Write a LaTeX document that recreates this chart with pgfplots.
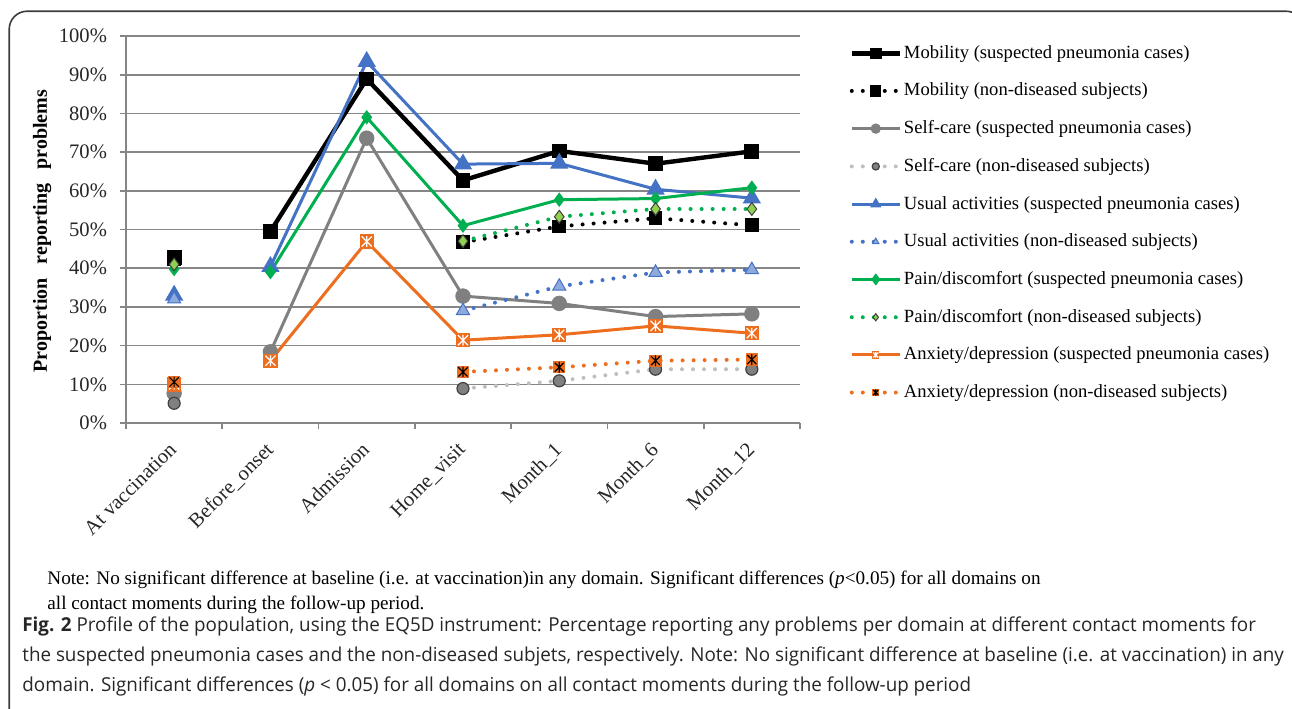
\documentclass[border=0pt]{standalone}
\usepackage{fontspec}
\setmainfont{Liberation Serif}
\newfontfamily\capfont[FakeStretch=0.98]{Open Sans}
\usepackage{pgfplots}
\pgfplotsset{compat=1.18}

\definecolor{axisgray}{RGB}{134,134,134}
\definecolor{cgray}{RGB}{128,128,128}
\definecolor{lgray}{RGB}{191,191,191}
\definecolor{dgray}{RGB}{64,64,64}
\definecolor{cblue}{RGB}{68,114,196}
\definecolor{lblue}{RGB}{142,169,219}
\definecolor{cgreen}{RGB}{0,176,80}
\definecolor{lgreen}{RGB}{146,208,80}
\definecolor{corange}{RGB}{237,110,30}
\definecolor{boxgray}{RGB}{60,60,60}

% square with an asterisk drawn on it
\pgfdeclareplotmark{sqstarw}{%
  \pgfpathrectangle{\pgfqpoint{-\pgfplotmarksize}{-\pgfplotmarksize}}{\pgfqpoint{2\pgfplotmarksize}{2\pgfplotmarksize}}%
  \pgfusepathqfill
  \pgfsetstrokecolor{white}\pgfsetlinewidth{0.6pt}%
  \pgfpathmoveto{\pgfqpoint{0pt}{-0.75\pgfplotmarksize}}\pgfpathlineto{\pgfqpoint{0pt}{0.75\pgfplotmarksize}}%
  \pgfpathmoveto{\pgfqpoint{-0.7\pgfplotmarksize}{-0.7\pgfplotmarksize}}\pgfpathlineto{\pgfqpoint{0.7\pgfplotmarksize}{0.7\pgfplotmarksize}}%
  \pgfpathmoveto{\pgfqpoint{-0.7\pgfplotmarksize}{0.7\pgfplotmarksize}}\pgfpathlineto{\pgfqpoint{0.7\pgfplotmarksize}{-0.7\pgfplotmarksize}}%
  \pgfusepathqstroke}
\pgfdeclareplotmark{sqstark}{%
  \pgfpathrectangle{\pgfqpoint{-\pgfplotmarksize}{-\pgfplotmarksize}}{\pgfqpoint{2\pgfplotmarksize}{2\pgfplotmarksize}}%
  \pgfusepathqfill
  \pgfsetstrokecolor{black}\pgfsetlinewidth{0.6pt}%
  \pgfpathmoveto{\pgfqpoint{0pt}{-0.8\pgfplotmarksize}}\pgfpathlineto{\pgfqpoint{0pt}{0.8\pgfplotmarksize}}%
  \pgfpathmoveto{\pgfqpoint{-0.7\pgfplotmarksize}{-0.7\pgfplotmarksize}}\pgfpathlineto{\pgfqpoint{0.7\pgfplotmarksize}{0.7\pgfplotmarksize}}%
  \pgfpathmoveto{\pgfqpoint{-0.7\pgfplotmarksize}{0.7\pgfplotmarksize}}\pgfpathlineto{\pgfqpoint{0.7\pgfplotmarksize}{-0.7\pgfplotmarksize}}%
  \pgfusepathqstroke}

\tikzset{
  dots/.style={line width=2pt, line cap=round, dash pattern=on 0pt off 5.5pt},
}

\begin{document}
\begin{tikzpicture}
\path[use as bounding box] (0,0) rectangle (646pt,-354pt);
\clip (0,0) rectangle (646pt,-354pt);
\draw[boxgray, line width=0.8pt, rounded corners=9pt] (4.6pt,-5.6pt) rectangle (652pt,-370pt);

\begin{axis}[
  at={(63pt,-211.5pt)}, anchor=south west,
  width=337pt, height=193.5pt, scale only axis,
  xmin=-0.5, xmax=6.5, ymin=0, ymax=100,
  axis x line*=bottom, axis y line*=left,
  axis line style={draw=axisgray, line width=0.8pt, -},
  ytick={0,10,...,100},
  yticklabels={0\%,10\%,20\%,30\%,40\%,50\%,60\%,70\%,80\%,90\%,100\%},
  ymajorgrids, grid style={draw=axisgray, line width=0.8pt},
  xtick={0,...,6},
  xticklabels={At vaccination,Before\_onset,Admission,Home\_visit,Month\_1,Month\_6,Month\_12},
  minor xtick={-0.5,0.5,...,6.5},
  tick align=outside,
  major tick length=3pt, minor tick length=3pt,
  major x tick style={draw=none},
  minor x tick style={draw=axisgray, line width=0.8pt},
  y tick style={draw=axisgray, line width=0.8pt},
  tick label style={font=\fontsize{10.3}{12}\selectfont, text=black!85},
  yticklabel style={xshift=-3pt},
  xticklabel style={rotate=45, anchor=north east, xshift=-3pt, yshift=1.5pt},
  ylabel={\textbf{Proportion\hspace{0.45em} reporting\hspace{0.45em} problems}},
  ylabel style={font=\fontsize{9.6}{11}\selectfont},
  every axis y label/.style={at={(axis description cs:-0.1246,0.496)}, rotate=90, anchor=center},
  unbounded coords=jump,
  legend style={at={(axis description cs:1.073,0.982)}, anchor=north west, draw=none, fill=none,
    font=\fontsize{9.3}{11}\selectfont, row sep=8.85pt, inner sep=0pt,
    nodes={inner sep=1pt}},
  legend cell align=left,
  legend image code/.code={\draw[mark repeat=2,mark phase=2,#1] plot coordinates {(0pt,0pt) (12pt,0pt) (24pt,0pt)};},
  legend image post style={mark size=1.8pt},
]
% Mobility
\addplot[black, line width=2.2pt, mark=square*, mark size=2.6pt] coordinates {
  (0,42.8) (0.5,nan) (1,49.5) (2,88.9) (3,62.7) (4,70.3) (5,67.0) (6,70.2)};
\addlegendentry{Mobility (suspected pneumonia cases)}
\addplot[black, dots, mark=square*, mark size=2.4pt, mark options={solid}] coordinates {
  (0,42.3) (1,nan) (3,46.7) (4,50.8) (5,52.9) (6,51.1)};
\addlegendentry{Mobility (non-diseased subjects)}
% Self-care
\addplot[cgray, line width=1.5pt, mark=*, mark size=3.1pt] coordinates {
  (0,7.7) (0.5,nan) (1,18.4) (2,73.6) (3,32.8) (4,30.9) (5,27.5) (6,28.2)};
\addlegendentry{Self-care (suspected pneumonia cases)}
\addplot[lgray, dots, mark=*, mark size=3pt, mark options={solid, fill=cgray, draw=dgray, line width=0.6pt}] coordinates {
  (0,5.1) (1,nan) (3,8.9) (4,10.9) (5,13.9) (6,13.9)};
\addlegendentry{Self-care (non-diseased subjects)}
% Usual activities
\addplot[cblue, line width=1.5pt, mark=triangle*, mark size=3.8pt] coordinates {
  (0,33.0) (0.5,nan) (1,40.4) (2,93.4) (3,66.9) (4,67.1) (5,60.4) (6,58.1)};
\addlegendentry{Usual activities (suspected pneumonia cases)}
\addplot[cblue, dots, mark=triangle*, mark size=3.8pt, mark options={solid, fill=lblue, draw=cblue, line width=0.5pt}] coordinates {
  (0,32.0) (1,nan) (3,29.0) (4,35.3) (5,38.9) (6,39.6)};
\addlegendentry{Usual activities (non-diseased subjects)}
% Pain/discomfort
\addplot[cgreen, line width=1.5pt, mark=diamond*, mark size=2.4pt] coordinates {
  (0,39.8) (0.5,nan) (1,39.0) (2,79.0) (3,51.0) (4,57.7) (5,58.0) (6,60.8)};
\addlegendentry{Pain/discomfort (suspected pneumonia cases)}
\addplot[cgreen, dots, mark=diamond*, mark size=3.2pt, mark options={solid, fill=lgreen, draw=black!75, line width=0.5pt}] coordinates {
  (0,41.0) (1,nan) (3,47.0) (4,53.3) (5,55.3) (6,55.3)};
\addlegendentry{Pain/discomfort (non-diseased subjects)}
% Anxiety/depression
\addplot[corange, line width=1.5pt, mark=sqstarw, mark size=3.6pt] coordinates {
  (0,10.0) (0.5,nan) (1,16.1) (2,46.9) (3,21.4) (4,22.8) (5,25.1) (6,23.2)};
\addlegendentry{Anxiety/depression (suspected pneumonia cases)}
\addplot[corange, dots, mark=sqstark, mark size=3.1pt, mark options={solid}] coordinates {
  (0,10.6) (1,nan) (3,13.2) (4,14.4) (5,16.1) (6,16.4)};
\addlegendentry{Anxiety/depression (non-diseased subjects)}
\end{axis}

\begin{scope}[every node/.style={anchor=base west, inner sep=0pt}]
\node[font=\fontsize{9.6}{12}\selectfont] at (23.5pt,-292pt)
  {Note: No significant difference at baseline (i.e. at vaccination)in any domain. Significant differences (\textit{p}<0.05) for all domains on};
\node[font=\fontsize{9.6}{12}\selectfont] at (23.5pt,-304.5pt)
  {all contact moments during the follow-up period.};
\node[font=\capfont\fontsize{9.6}{10}\selectfont, text=black!85] at (11pt,-315.5pt)
  {\textbf{Fig. 2} Profile of the population, using the EQ5D instrument: Percentage reporting any problems per domain at different contact moments for};
\node[font=\capfont\fontsize{9.6}{10}\selectfont, text=black!85] at (11pt,-330.5pt)
  {the suspected pneumonia cases and the non-diseased subjets, respectively. Note: No significant difference at baseline (i.e. at vaccination) in any};
\node[font=\capfont\fontsize{9.6}{10}\selectfont, text=black!85] at (11pt,-345.5pt)
  {domain. Significant differences (\textit{p} < 0.05) for all domains on all contact moments during the follow-up period};
\end{scope}
\end{tikzpicture}
\end{document}
